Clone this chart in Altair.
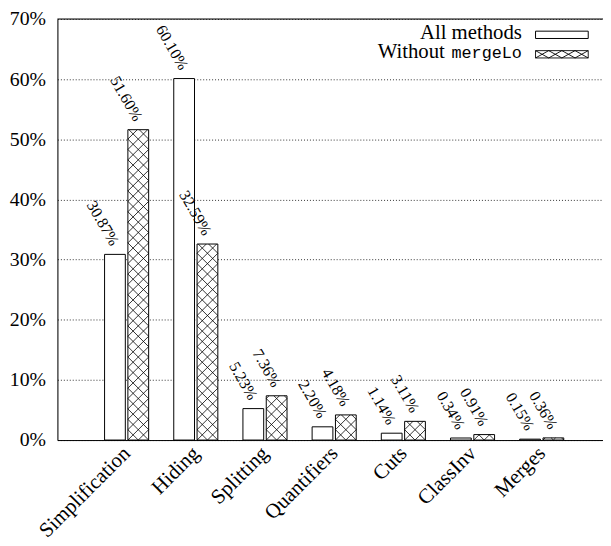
import json
import altair as alt
import pandas as pd

# ---------------- data ----------------
categories = ["Simplification", "Hiding", "Splitting", "Quantifiers", "Cuts", "ClassInv", "Merges"]
all_methods = [30.87, 60.10, 5.23, 2.20, 1.14, 0.34, 0.15]
without_mergelo = [51.60, 32.59, 7.36, 4.18, 3.11, 0.91, 0.36]
series = ["All methods", "Without mergeLo"]
y_ticks = [0, 10, 20, 30, 40, 50, 60, 70]

# ---------------- layout / style ----------------
PLOT_W, PLOT_H = 552, 426
STEP = 70.0                      # px per category
X_MAX = PLOT_W / STEP
Y_MAX = y_ticks[-1]
PX_Y = PLOT_H / Y_MAX            # px per percent
BAR_PX = 21.0
GAP_PX = 1.3
SERIF = "Liberation Serif"
MONO = "Liberation Mono"

rows = []
for s_idx, (name, vals) in enumerate(zip(series, [all_methods, without_mergelo])):
    for i, (cat, v) in enumerate(zip(categories, vals)):
        pos = i + 1
        if s_idx == 0:
            x0 = pos - (GAP_PX + BAR_PX) / STEP
        else:
            x0 = pos + GAP_PX / STEP
        x1 = x0 + BAR_PX / STEP
        rows.append(dict(cat=cat, series=name, v=v, x0=x0, x1=x1,
                         xc=(x0 + x1) / 2, lab=f"{v:.2f}%"))
bars = pd.DataFrame(rows)
hatched = bars[bars.series == series[1]]

# cross-hatch segments derived from each hatched bar's geometry
segs = []
P = BAR_PX / 2
for _, r in hatched.iterrows():
    H = r.v * PX_Y
    W = BAR_PX
    kmin = -int(W // P) - 1
    kmax = int(H // P) + 2
    for k in range(kmin, kmax + 1):
        lo, hi = max(0.0, -k * P), min(W, H - k * P)
        if hi - lo > 0.05:
            segs.append(dict(x=r.x0 + lo / STEP, x2=r.x0 + hi / STEP,
                             y=(lo + k * P) / PX_Y, y2=(hi + k * P) / PX_Y))
    for k in range(0, int((H + W) // P) + 2):
        lo, hi = max(0.0, k * P - H), min(W, k * P)
        if hi - lo > 0.05:
            segs.append(dict(x=r.x0 + lo / STEP, x2=r.x0 + hi / STEP,
                             y=(k * P - lo) / PX_Y, y2=(k * P - hi) / PX_Y))
segs = pd.DataFrame(segs)

x_scale = alt.Scale(domain=[0, X_MAX], nice=False, zero=False)
y_scale = alt.Scale(domain=[0, Y_MAX], nice=False, zero=True)

x_axis = alt.Axis(values=list(range(1, len(categories) + 1)),
                  labelExpr=json.dumps(categories) + "[datum.value - 1]",
                  grid=False, ticks=False, labelAngle=-45, labelAlign="right",
                  labelBaseline="middle", labelPadding=10, labelOffset=0,
                  labelOverlap=False, labelBound=False, labelFlush=False,
                  labelFont=SERIF, labelFontSize=21, labelColor="black",
                  domainColor="black", domainWidth=1, title=None)
y_axis = alt.Axis(values=y_ticks, labelExpr="datum.value + '%'",
                  grid=True, gridDash=[1, 2], gridColor="#333", gridWidth=1,
                  ticks=False, labelPadding=12, labelFont=SERIF, labelFontSize=20,
                  labelOverlap=False, labelFlush=False,
                  labelColor="black", domainColor="black", domainWidth=1, title=None)

white_bars = alt.Chart(bars[bars.series == series[0]]).mark_rect(
    fill="white", stroke="black", strokeWidth=1).encode(
    x=alt.X("x0:Q", scale=x_scale, axis=x_axis),
    x2="x1",
    y=alt.Y("v:Q", scale=y_scale, axis=y_axis),
    y2=alt.datum(0),
)
hatch_fill = alt.Chart(hatched).mark_rect(fill="white").encode(
    x=alt.X("x0:Q", scale=x_scale), x2="x1",
    y=alt.Y("v:Q", scale=y_scale), y2=alt.datum(0))
hatch_lines = alt.Chart(segs).mark_rule(color="black", strokeWidth=0.8).encode(
    x=alt.X("x:Q", scale=x_scale), x2="x2",
    y=alt.Y("y:Q", scale=y_scale), y2="y2")
hatch_outline = alt.Chart(hatched).mark_rect(
    fill=None, fillOpacity=0, stroke="black", strokeWidth=1).encode(
    x=alt.X("x0:Q", scale=x_scale), x2="x1",
    y=alt.Y("v:Q", scale=y_scale), y2=alt.datum(0))

labels = alt.Chart(bars).mark_text(
    angle=60, align="right", baseline="middle", font=SERIF, fontSize=16,
    color="black", yOffset=-10).encode(
    x=alt.X("xc:Q", scale=x_scale),
    y=alt.Y("v:Q", scale=y_scale),
    text="lab:N")

top_rule = alt.Chart(pd.DataFrame({"y": [Y_MAX]})).mark_rule(
    color="black", strokeWidth=1).encode(
    y=alt.Y("y:Q", scale=y_scale), x=alt.value(0), x2=alt.value(PLOT_W))

# ---------------- legend (manual, labels left of symbols) ----------------
RECT_PATH = "M-1,-0.139L1,-0.139L1,0.139L-1,0.139Z"
h = 0.139
HATCH_PATH = (RECT_PATH +
              f"M-1,{-h}L-0.5,{h}L0,{-h}L0.5,{h}L1,{-h}"
              f"M-1,{h}L-0.5,{-h}L0,{h}L0.5,{-h}L1,{h}")
SYM_SIZE = 53.3 ** 2
without_word, mono_word = series[1].rsplit(" ", 1)

leg_df = pd.DataFrame({"s": series})
leg1_text = alt.Chart(leg_df.iloc[[0]]).mark_text(
    align="right", baseline="alphabetic", font=SERIF, fontSize=21, color="black").encode(
    x=alt.value(470), y=alt.value(20.7), text="s:N")
leg1_sym = alt.Chart(leg_df.iloc[[0]]).mark_point(
    shape=RECT_PATH, size=SYM_SIZE, filled=True, fill="white", stroke="black",
    strokeWidth=1, opacity=1).encode(x=alt.value(510.4), y=alt.value(16))
leg2_text_a = alt.Chart(pd.DataFrame({"t": [without_word]})).mark_text(
    align="right", baseline="alphabetic", font=SERIF, fontSize=21, color="black").encode(
    x=alt.value(392), y=alt.value(39.7), text="t:N")
leg2_text_b = alt.Chart(pd.DataFrame({"t": [mono_word]})).mark_text(
    align="right", baseline="alphabetic", font=MONO, fontSize=17, color="black").encode(
    x=alt.value(470), y=alt.value(39.7), text="t:N")
leg2_sym = alt.Chart(leg_df.iloc[[1]]).mark_point(
    shape=HATCH_PATH, size=SYM_SIZE, filled=True, fill="white", stroke="black",
    strokeWidth=0.9, opacity=1).encode(x=alt.value(510.4), y=alt.value(35.7))

chart = alt.layer(
    white_bars, hatch_fill, hatch_lines, hatch_outline, labels, top_rule,
    leg1_text, leg1_sym, leg2_text_a, leg2_text_b, leg2_sym,
).properties(
    width=PLOT_W, height=PLOT_H,
    autosize=alt.AutoSizeParams(type="none"),
    padding={"left": 50, "top": 8, "right": 0, "bottom": 100},
).configure_view(stroke=None).configure(background="white")

chart.save("out.html", embed_options={"renderer": "svg", "actions": False})
